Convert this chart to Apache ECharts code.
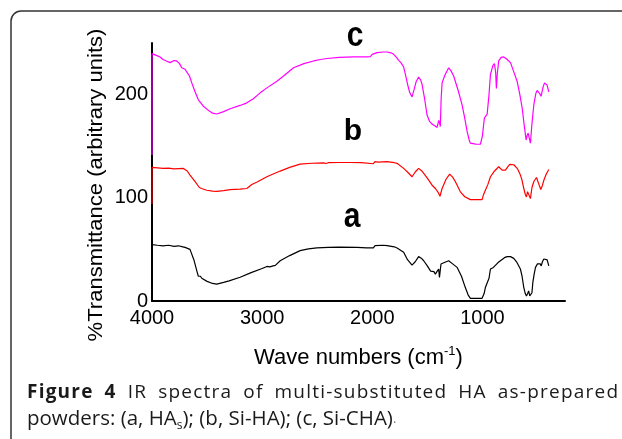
<!DOCTYPE html>
<html>
<head>
<meta charset="utf-8">
<script src="https://cdn.jsdelivr.net/npm/echarts@6/dist/echarts.min.js"></script>
<style>html,body{margin:0;padding:0;background:#fff;}#c{width:622px;height:439px;}</style>
</head>
<body>
<div id="c"></div>
<script>
// ---- data (wavenumber cm-1, transmittance arbitrary units) ----
var xTicks = [4000, 3000, 2000, 1000];
var yTicks = [0, 100, 200];

var aWave = [4000,3950,3900,3850,3800,3760,3720,3700,3655,3620,3590,3579,3560,3548,3500,3450,3412,3350,3300,3200,3100,3000,2957,2930,2920,2900,2880,2836,2750,2655,2580,2503,2400,2300,2139,2050,1990,1975,1957,1900,1866,1800,1775,1715,1680,1639,1610,1579,1555,1533,1500,1470,1457,1440,1427,1410,1397,1390,1376,1340,1306,1270,1230,1190,1155,1130,1109,1003,985,973,957,940,927,900,882,860,836,800,775,745,715,690,655,640,624,610,600,590,580,570,564,550,542,530,518,500,488,475,466,455,442,425,412,397];
var aVal  = [54.6,54,53.5,54,53,53.5,52.5,52,50,40,28,24,24,22,19,17,16.3,18,19.5,23,27.5,31.5,33.5,33,31.5,34,34.5,39,44,48.8,50.5,51.4,52,52.3,52,51.5,51.4,53.6,53.7,54,53.7,52.5,51.4,47.2,40,34.8,38,43,41.5,39,34,29,27.7,28.5,26,29,31,22.8,35.8,37.5,39,36,32.6,24,13,6,2.6,2.6,7,13,14,22,31,32.5,33.5,37,39,42,43,43,41.3,38,31,24,13,7,4.9,7,9.8,5,3.3,8,18,26,32.6,36,37.4,36,34,38,40.7,40.5,39.8,34];

var bWave = [4000,4000,3900,3850,3800,3715,3680,3655,3610,3570,3550,3503,3450,3412,3350,3291,3200,3139,3094,3050,2957,2900,2836,2750,2655,2550,2442,2420,2400,2300,2200,2100,1990,1975,1950,1866,1800,1775,1715,1680,1639,1610,1579,1550,1533,1500,1457,1427,1400,1385,1366,1330,1297,1270,1245,1200,1160,1109,1003,990,973,950,927,890,852,821,791,770,752,715,680,655,640,624,610,600,590,580,564,550,532,509,490,470,455,442,420,397];
var bVal  = [94,129.5,128.5,128.8,128,128.5,126,122,116,110,109,107.3,106.5,106.3,107,108,108.5,109,112.9,115,120.4,123,125.9,129.5,132.7,133.5,133.9,133.2,134,134.2,134.2,134,133,135,134.5,135,134,133.4,128.5,125,120.4,125,128.5,126,124.6,119,112.2,109,105,101.5,109,118,123,120,115.5,105.8,101,98.2,98.2,103,107.3,113,120.4,126,130.1,126.8,126.8,130,132.4,132,128,122,117,109,103,100.9,106,107,99.2,110,116,119.7,114,108,112,117,123,127.5];

var cWave = [4000,4000,3960,3927,3900,3870,3836,3800,3776,3750,3730,3700,3685,3660,3639,3610,3579,3550,3533,3480,3450,3412,3350,3291,3200,3139,3080,3018,2950,2866,2800,2715,2620,2533,2470,2412,2300,2170,2050,2018,2000,1957,1900,1866,1830,1806,1780,1760,1740,1715,1700,1679,1660,1639,1620,1600,1579,1560,1548,1525,1503,1480,1457,1435,1412,1405,1397,1390,1382,1375,1366,1340,1306,1285,1261,1220,1185,1160,1139,1120,1109,1060,1018,1000,982,970,957,940,927,905,891,880,873,865,852,830,806,780,745,715,685,660,639,620,603,595,585,575,564,550,533,515,503,480,467,450,436,420,412,397];
var cVal  = [141.5,239.7,238,236.5,234,232.5,231,233,232.6,230,226,224.5,223.5,218,211.4,203,195,191,188.7,184,182,181.2,183.5,186.3,189.5,192,196,201.7,207,213,218.5,226,230,232.6,234,235,236,236.5,236.5,236.8,239,240.7,241.3,241.3,240.5,239,236,233.2,231,226.7,220,209.8,202,197.8,205,213,217,214,210,196,180.5,174,171.4,170,168.2,171,175,173,169,195,211.4,219,226,223,218,204,190.2,177,164.3,156,152.9,152,151.9,160,177.3,178,181,200,219.5,228,230,222,205.9,220,232.6,236,236.5,234.5,231,222,213,200,187,170,156,160,162.6,158,152.9,172,190.2,201,204,201,198.4,207,211.4,210,209,202.6];

var captionLine1 = [{t: 'Figure 4', b: true}, {t: ' IR spectra of multi-substituted HA as-prepared', b: false}];

function zip(w, v) { return w.map(function (x, i) { return [x, v[i]]; }); }

var ff = 'Liberation Sans, Arial, sans-serif';
var cf = '"Open Sans", sans-serif';
var capSize = 19;
var spaceWeight = 5;

// letter-spaced (justified) caption line, laid out with measured glyph widths
function justified(segs, x0, x1, yMid) {
  var ctx = document.createElement('canvas').getContext('2d');
  var chars = [];
  segs.forEach(function (s) {
    ctx.font = (s.b ? 'bold ' : '') + capSize + 'px ' + cf;
    s.t.split('').forEach(function (ch) { chars.push({ch: ch, b: s.b, w: ctx.measureText(ch).width}); });
  });
  var nat = 0, wsum = 0;
  chars.forEach(function (c, i) { nat += c.w; if (i < chars.length - 1) wsum += (c.ch === ' ' ? spaceWeight : 1); });
  var extra = (x1 - x0 - nat) / wsum;
  var x = x0, els = [];
  chars.forEach(function (c) {
    if (c.ch !== ' ') {
      els.push({type: 'text', x: x, y: yMid, silent: true, style: {text: c.ch, fontFamily: cf, fontSize: capSize, fontWeight: c.b ? 'bold' : 'normal', fill: '#1a1a1a', align: 'left', verticalAlign: 'middle'}});
    }
    x += c.w + (c.ch === ' ' ? spaceWeight : 1) * extra;
  });
  return els;
}

var chart = echarts.init(document.getElementById('c'), null, {renderer: 'canvas'});

var graphics = [
  {type: 'rect', shape: {x: 11, y: 11, width: 640, height: 460, r: 10}, style: {fill: 'none', stroke: '#333', lineWidth: 1.5}},
  {type: 'text', x: 355, y: 36, scaleY: 1.15, style: {text: 'c', fontFamily: ff, fontSize: 30, fontWeight: 'bold', fill: '#000', align: 'center', verticalAlign: 'middle'}},
  {type: 'text', x: 353, y: 132, style: {text: 'b', fontFamily: ff, fontSize: 30, fontWeight: 'bold', fill: '#000', align: 'center', verticalAlign: 'middle'}},
  {type: 'text', x: 352, y: 217, scaleY: 1.15, style: {text: 'a', fontFamily: ff, fontSize: 30, fontWeight: 'bold', fill: '#000', align: 'center', verticalAlign: 'middle'}},
  {type: 'text', x: 96, y: 185, rotation: Math.PI / 2, scaleX: 1.05, style: {text: '%Transmittance (arbitrary units)', fontFamily: ff, fontSize: 21, fill: '#000', align: 'center', verticalAlign: 'middle'}},
  {type: 'text', left: 27, top: 409, style: {
    text: '{n|powders: (a, HA}{sub|s}{n|); (b, Si-HA); (c, Si-CHA)}{d|.}',
    rich: {
      n: {fontFamily: cf, fontSize: 20.5, fill: '#1a1a1a', lineHeight: 24},
      sub: {fontFamily: cf, fontSize: 12, fill: '#1a1a1a', lineHeight: 12, verticalAlign: 'bottom'},
      d: {fontFamily: cf, fontSize: 13, fill: '#777', lineHeight: 24}
    }
  }}
].concat(justified(captionLine1, 27, 618, 393));

chart.setOption({
  animation: false,
  backgroundColor: '#fff',
  grid: {left: 152, right: 57, top: 43, bottom: 138},
  xAxis: {
    type: 'value', inverse: true, min: 250, max: 4000,
    axisLine: {show: true, onZero: false, lineStyle: {color: '#000', width: 2}},
    axisTick: {show: false}, splitLine: {show: false},
    axisLabel: {customValues: xTicks, color: '#000', fontFamily: ff, fontSize: 20, margin: 7, formatter: function (v) { return String(v); }},
    name: '{a|Wave numbers (cm}{s|-1}{a|)}', nameLocation: 'middle', nameGap: 44,
    nameTextStyle: {rich: {
      a: {fontFamily: ff, fontSize: 22, color: '#000', lineHeight: 26},
      s: {fontFamily: ff, fontSize: 13, color: '#000', lineHeight: 13, verticalAlign: 'top'}
    }}
  },
  yAxis: {
    type: 'value', min: 0, max: 250,
    axisLine: {show: true, onZero: false, lineStyle: {color: '#000', width: 2}},
    axisTick: {show: false}, splitLine: {show: false},
    axisLabel: {customValues: yTicks, color: '#000', fontFamily: ff, fontSize: 20, margin: 4, formatter: function (v) { return String(v); }}
  },
  series: [
    {type: 'line', data: zip(aWave, aVal), showSymbol: false, lineStyle: {color: '#000', width: 1.2}, z: 3},
    {type: 'line', data: zip(bWave, bVal), showSymbol: false, lineStyle: {color: '#ff0000', width: 1.2}, z: 3},
    {type: 'line', data: zip(cWave, cVal), showSymbol: false, lineStyle: {color: '#ff00ff', width: 1.2}, z: 3}
  ],
  graphic: graphics
});
</script>
</body>
</html>
